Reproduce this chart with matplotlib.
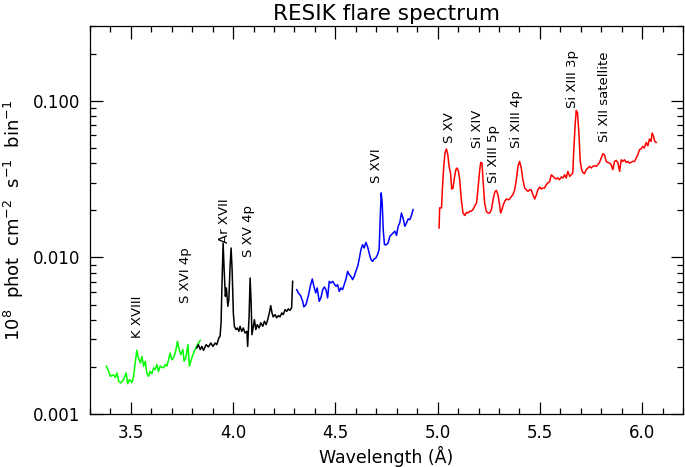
import matplotlib
matplotlib.use("Agg")
import matplotlib.pyplot as plt
from matplotlib.ticker import FixedLocator, FuncFormatter, LogLocator, MultipleLocator

# ---- data (wavelength in Angstrom, flux in 1e8 phot cm^-2 s^-1 bin^-1) ----
green_wl = [3.380, 3.391, 3.399, 3.415, 3.424, 3.432, 3.440, 3.451, 3.464, 3.477,
            3.484, 3.493, 3.505, 3.513, 3.521, 3.529, 3.537, 3.546, 3.554, 3.562,
            3.570, 3.578, 3.586, 3.594, 3.603, 3.611, 3.619, 3.627, 3.635, 3.643,
            3.659, 3.668, 3.676, 3.684, 3.692, 3.700, 3.708, 3.717, 3.728, 3.736,
            3.744, 3.754, 3.760, 3.770, 3.779, 3.786, 3.793, 3.803, 3.814, 3.825, 3.839]
green_fl = [0.00202, 0.00187, 0.00174, 0.00178, 0.00171, 0.00183, 0.00162, 0.00158, 0.00166, 0.00183,
            0.00156, 0.00166, 0.00159, 0.00174, 0.00212, 0.00255, 0.00228, 0.00212, 0.00233, 0.00202,
            0.00217, 0.00183, 0.00174, 0.00187, 0.00181, 0.00197, 0.00192, 0.00207, 0.00187, 0.00202,
            0.00197, 0.00207, 0.00202, 0.00222, 0.00245, 0.00222, 0.00228, 0.00245, 0.00291, 0.00258,
            0.00239, 0.00258, 0.00217, 0.00233, 0.00277, 0.00202, 0.00217, 0.00239, 0.00258, 0.00277, 0.00295]

black_wl = [3.822, 3.830, 3.839, 3.847, 3.855, 3.868, 3.879, 3.891, 3.901, 3.912,
            3.920, 3.930, 3.936, 3.941, 3.946, 3.951, 3.956, 3.962, 3.967, 3.974,
            3.979, 3.985, 3.990, 3.995, 4.001, 4.006, 4.014, 4.021, 4.028, 4.034,
            4.042, 4.050, 4.058, 4.067, 4.071, 4.078, 4.083, 4.088, 4.092, 4.099,
            4.104, 4.111, 4.118, 4.127, 4.135, 4.145, 4.153, 4.161, 4.169, 4.177,
            4.184, 4.190, 4.196, 4.205, 4.213, 4.221, 4.229, 4.238, 4.245, 4.254,
            4.262, 4.270, 4.278, 4.286, 4.291]
black_fl = [0.00264, 0.00277, 0.00258, 0.00270, 0.00255, 0.00277, 0.00268, 0.00284, 0.00270, 0.00284,
            0.00277, 0.00306, 0.00313, 0.00382, 0.00721, 0.01235, 0.00835, 0.00564, 0.00638, 0.00487,
            0.00537, 0.00876, 0.01148, 0.00835, 0.00442, 0.00363, 0.00346, 0.00354, 0.00337, 0.00363,
            0.00337, 0.00354, 0.00329, 0.00337, 0.00270, 0.00420, 0.00739, 0.00512, 0.00321, 0.00363,
            0.00400, 0.00346, 0.00372, 0.00354, 0.00382, 0.00363, 0.00391, 0.00372, 0.00400, 0.00442,
            0.00492, 0.00442, 0.00417, 0.00431, 0.00411, 0.00425, 0.00417, 0.00442, 0.00431, 0.00464,
            0.00452, 0.00469, 0.00459, 0.00476, 0.00703]

blue_wl = [4.311, 4.319, 4.330, 4.340, 4.346, 4.356, 4.367, 4.379, 4.387, 4.395,
           4.404, 4.411, 4.421, 4.429, 4.438, 4.446, 4.454, 4.462, 4.470, 4.478,
           4.487, 4.494, 4.503, 4.511, 4.519, 4.527, 4.535, 4.543, 4.551, 4.560,
           4.568, 4.576, 4.584, 4.592, 4.600, 4.609, 4.616, 4.625, 4.633, 4.641,
           4.649, 4.657, 4.665, 4.674, 4.682, 4.690, 4.698, 4.706, 4.714, 4.719,
           4.724, 4.729, 4.734, 4.740, 4.750, 4.758, 4.766, 4.775, 4.782, 4.791,
           4.799, 4.807, 4.815, 4.823, 4.831, 4.840, 4.848, 4.856, 4.864, 4.872, 4.880]
blue_fl = [0.00622, 0.00593, 0.00570, 0.00524, 0.00483, 0.00499, 0.00564, 0.00669, 0.00728, 0.00653,
           0.00593, 0.00638, 0.00524, 0.00551, 0.00622, 0.00647, 0.00622, 0.00551, 0.00703, 0.00686,
           0.00703, 0.00679, 0.00653, 0.00669, 0.00607, 0.00638, 0.00622, 0.00669, 0.00721, 0.00814,
           0.00776, 0.00756, 0.00721, 0.00756, 0.00814, 0.00876, 0.00967, 0.0112, 0.01205, 0.01148,
           0.01246, 0.01175, 0.01067, 0.00967, 0.00943, 0.00977, 0.00991, 0.0104, 0.0112, 0.0174,
           0.0258, 0.0222, 0.0150, 0.01205, 0.01205, 0.01235, 0.0136, 0.0140, 0.0143, 0.0147,
           0.0138, 0.0158, 0.0166, 0.0192, 0.0178, 0.0158, 0.0166, 0.0176, 0.0174, 0.0185, 0.0202]

red_wl = [5.007, 5.010, 5.019, 5.024, 5.030, 5.036, 5.043, 5.050, 5.056, 5.063,
          5.069, 5.075, 5.082, 5.089, 5.095, 5.102, 5.108, 5.116, 5.124, 5.133,
          5.141, 5.149, 5.157, 5.165, 5.173, 5.181, 5.190, 5.197, 5.206, 5.211,
          5.217, 5.222, 5.230, 5.238, 5.246, 5.255, 5.263, 5.271, 5.279, 5.287,
          5.295, 5.303, 5.308, 5.315, 5.320, 5.328, 5.336, 5.344, 5.352, 5.361,
          5.368, 5.377, 5.385, 5.393, 5.401, 5.409, 5.417, 5.426, 5.434, 5.442,
          5.450, 5.458, 5.466, 5.475, 5.483, 5.490, 5.499, 5.507, 5.515, 5.523,
          5.531, 5.539, 5.548, 5.556, 5.564, 5.572, 5.580, 5.588, 5.596, 5.605,
          5.613, 5.621, 5.629, 5.637, 5.646, 5.654, 5.661, 5.666, 5.673, 5.678,
          5.684, 5.691, 5.697, 5.704, 5.710, 5.718, 5.727, 5.735, 5.743, 5.751,
          5.759, 5.767, 5.776, 5.783, 5.792, 5.800, 5.808, 5.816, 5.824, 5.832,
          5.841, 5.849, 5.857, 5.865, 5.873, 5.881, 5.890, 5.898, 5.905, 5.914,
          5.922, 5.930, 5.938, 5.946, 5.954, 5.963, 5.971, 5.979, 5.987, 5.995,
          6.003, 6.011, 6.020, 6.028, 6.036, 6.044, 6.049, 6.056, 6.062, 6.069]
red_fl = [0.0154, 0.0207, 0.0207, 0.0284, 0.0381, 0.0464, 0.0492, 0.0452, 0.0381, 0.0346,
          0.0273, 0.0277, 0.0321, 0.0363, 0.0372, 0.0354, 0.0313, 0.0233, 0.0192, 0.0185,
          0.0194, 0.0192, 0.0197, 0.0197, 0.0202, 0.0212, 0.0222, 0.0270, 0.0363, 0.0404,
          0.0400, 0.0313, 0.0222, 0.0197, 0.0192, 0.0192, 0.0202, 0.0233, 0.0260, 0.0268,
          0.0251, 0.0217, 0.0192, 0.0202, 0.0214, 0.0228, 0.0236, 0.0233, 0.0236, 0.0245,
          0.0251, 0.0270, 0.0313, 0.0381, 0.0410, 0.0372, 0.0313, 0.0277, 0.0270, 0.0264,
          0.0270, 0.0270, 0.0251, 0.0236, 0.0251, 0.0270, 0.0281, 0.0273, 0.0277, 0.0277,
          0.0291, 0.0298, 0.0305, 0.0337, 0.0329, 0.0321, 0.0317, 0.0321, 0.0313, 0.0326,
          0.0321, 0.0337, 0.0321, 0.0354, 0.0329, 0.0337, 0.0346, 0.0487, 0.0720, 0.0867,
          0.0835, 0.0622, 0.0420, 0.0363, 0.0349, 0.0342, 0.0363, 0.0372, 0.0381, 0.0372,
          0.0381, 0.0385, 0.0381, 0.0390, 0.0404, 0.0431, 0.0459, 0.0452, 0.0410, 0.0404,
          0.0400, 0.0390, 0.0363, 0.0410, 0.0416, 0.0404, 0.0354, 0.0420, 0.0410, 0.0420,
          0.0404, 0.0410, 0.0400, 0.0404, 0.0410, 0.0410, 0.0431, 0.0452, 0.0487, 0.0492,
          0.0511, 0.0499, 0.0542, 0.0516, 0.0570, 0.0550, 0.0622, 0.0592, 0.0550, 0.0542]

line_labels = ["K XVIII", "S XVI 4p", "Ar XVII", "S XV 4p", "S XVI", "S XV",
               "Si XIV", "Si XIII 5p", "Si XIII 4p", "Si XIII 3p", "Si XII satellite"]
label_wl = [3.532, 3.765, 3.956, 4.074, 4.701, 5.059, 5.197, 5.271, 5.385, 5.661, 5.815]
label_fl = [0.00307, 0.00514, 0.0124, 0.0101, 0.0300, 0.0540, 0.0501, 0.0300, 0.0501, 0.0902, 0.0547]

x_ticks = [3.5, 4.0, 4.5, 5.0, 5.5, 6.0]
y_ticks = [0.001, 0.010, 0.100]

# ---- figure ----
plt.rcParams['font.family'] = ['DejaVu Sans']
fig = plt.figure(figsize=(6.85, 4.67), dpi=100)
ax = fig.add_axes([90 / 685, 1 - 414 / 467, (683 - 90) / 685, (414 - 26) / 467])

lw = 1.1
ax.plot(green_wl, green_fl, color='#00ff00', lw=lw)
ax.plot(black_wl, black_fl, color='black', lw=lw)
ax.plot(blue_wl, blue_fl, color='#0000ff', lw=lw)
ax.plot(red_wl, red_fl, color='#ff0000', lw=lw)

for txt, xw, yf in zip(line_labels, label_wl, label_fl):
    ax.text(xw, yf, txt, rotation=90, ha='center', va='bottom', fontsize=9.5)

ax.set_yscale('log')
ax.set_xlim(3.3, 6.2)
ax.set_ylim(0.001, 0.3)

ax.xaxis.set_major_locator(FixedLocator(x_ticks))
ax.xaxis.set_minor_locator(MultipleLocator(0.1))
ax.yaxis.set_major_locator(FixedLocator(y_ticks))
ax.yaxis.set_minor_locator(LogLocator(base=10, subs=range(2, 10)))
ax.yaxis.set_major_formatter(FuncFormatter(lambda v, p: f"{v:.3f}"))
ax.yaxis.set_minor_formatter(FuncFormatter(lambda v, p: ""))
ax.xaxis.set_major_formatter(FuncFormatter(lambda v, p: f"{v:.1f}"))

ax.tick_params(which='both', direction='in', top=True, right=True, width=0.9)
ax.tick_params(which='major', length=9, labelsize=12, pad=7)
ax.tick_params(which='minor', length=4.5)
for s in ax.spines.values():
    s.set_linewidth(0.9)

ax.set_title("RESIK flare spectrum", fontsize=15.5, pad=4)
ax.set_xlabel("Wavelength (Å)", fontsize=12.5, labelpad=3)
ax.set_ylabel(r"10$^{8}$  phot  cm$^{-2}$  s$^{-1}$  bin$^{-1}$", fontsize=13, labelpad=5)

fig.savefig("out.png", dpi=100)
